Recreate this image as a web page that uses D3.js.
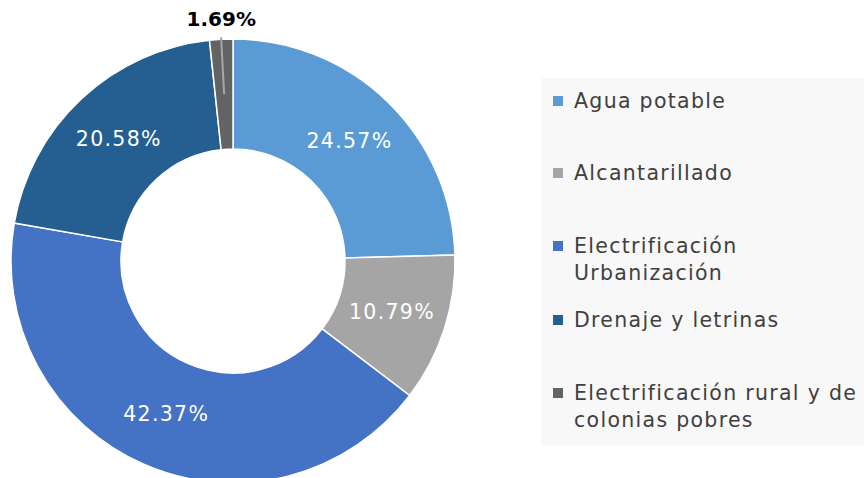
<!DOCTYPE html>
<html>
<head>
<meta charset="utf-8">
<script src="https://cdn.jsdelivr.net/npm/d3@7"></script>
<style>
  body { margin: 0; background: #fff; }
  svg { display: block; }
</style>
</head>
<body>
<svg id="chart" width="864" height="478"></svg>
<script>
const categories = [
  "Agua potable",
  "Alcantarillado",
  "Electrificación Urbanización",
  "Drenaje y letrinas",
  "Electrificación rural y de colonias pobres"
]
const values = [24.57, 10.79, 42.37, 20.58, 1.69]
const colors = ["#5b9bd5", "#a5a5a5", "#4472c4", "#255e91", "#636363"]
// legend text wrapped the way the original shows it
const legendLines = [
  ["Agua potable"],
  ["Alcantarillado"],
  ["Electrificación", "Urbanización"],
  ["Drenaje y letrinas"],
  ["Electrificación rural y de", "colonias pobres"]
]

const data = categories.map((c, i) => ({ name: c, value: values[i], color: colors[i] }))

const svg = d3.select('#chart')
const cx = 233, cy = 261
const outerR = 222, innerR = 112

const pie = d3.pie().value(d => d.value).sort(null)
const arc = d3.arc().innerRadius(innerR).outerRadius(outerR)
const labelArc = d3.arc().innerRadius((innerR + outerR) / 2).outerRadius((innerR + outerR) / 2)

const g = svg.append('g').attr('transform', `translate(${cx},${cy})`)
const arcs = pie(data)

g.selectAll('path')
  .data(arcs)
  .enter()
  .append('path')
  .attr('d', arc)
  .attr('fill', d => d.data.color)
  .attr('stroke', '#fff')
  .attr('stroke-width', 1.5)

const fontFamily = "'DejaVu Sans', Verdana, sans-serif"

// inside labels for the big slices
g.selectAll('text.inside')
  .data(arcs.filter(d => d.data.value > 5))
  .enter()
  .append('text')
  .attr('class', 'inside')
  .attr('x', d => labelArc.centroid(d)[0])
  .attr('y', d => labelArc.centroid(d)[1])
  .attr('text-anchor', 'middle')
  .attr('dominant-baseline', 'central')
  .attr('font-family', fontFamily)
  .attr('font-size', 20.5)
  .attr('letter-spacing', 1.3)
  .attr('fill', '#fff')
  .text(d => d.value.toFixed(2) + '%')

// the tiny slice gets an outside label with a leader line
arcs.filter(d => d.data.value <= 5).forEach(d => {
  const mid = (d.startAngle + d.endAngle) / 2
  const r1 = (innerR + outerR) / 2, r2 = outerR + 2
  g.append('line')
    .attr('x1', Math.sin(mid) * r1)
    .attr('y1', -Math.cos(mid) * r1)
    .attr('x2', Math.sin(mid) * r2)
    .attr('y2', -Math.cos(mid) * r2)
    .attr('stroke', '#a6a6a6')
    .attr('stroke-width', 2)
  g.append('text')
    .attr('x', Math.sin(mid) * outerR)
    .attr('y', -cy + 19)
    .attr('text-anchor', 'middle')
    .attr('dominant-baseline', 'central')
    .attr('font-family', fontFamily)
    .attr('font-size', 20)
    .attr('font-weight', 'bold')
    .attr('fill', '#000')
    .text(d.value.toFixed(2) + '%')
})

// legend
const legend = svg.append('g')
legend.append('rect')
  .attr('x', 541).attr('y', 78)
  .attr('width', 323).attr('height', 367)
  .attr('fill', '#f8f8f8')

const legendY = [101, 173, 246, 320, 393]
const items = legend.selectAll('g.item')
  .data(data)
  .enter()
  .append('g')
  .attr('class', 'item')
  .attr('transform', (d, i) => `translate(553,${legendY[i]})`)

items.append('rect')
  .attr('x', 0).attr('y', -5)
  .attr('width', 10).attr('height', 10)
  .attr('fill', d => d.color)

items.each(function (d, i) {
  const t = d3.select(this).append('text')
    .attr('font-family', fontFamily)
    .attr('font-size', 20.5)
    .attr('letter-spacing', 1.3)
    .attr('fill', '#404040')
  legendLines[i].forEach((line, j) => {
    t.append('tspan')
      .attr('x', 21)
      .attr('y', j * 27)
      .attr('dominant-baseline', 'central')
      .text(line)
  })
})
</script>
</body>
</html>
